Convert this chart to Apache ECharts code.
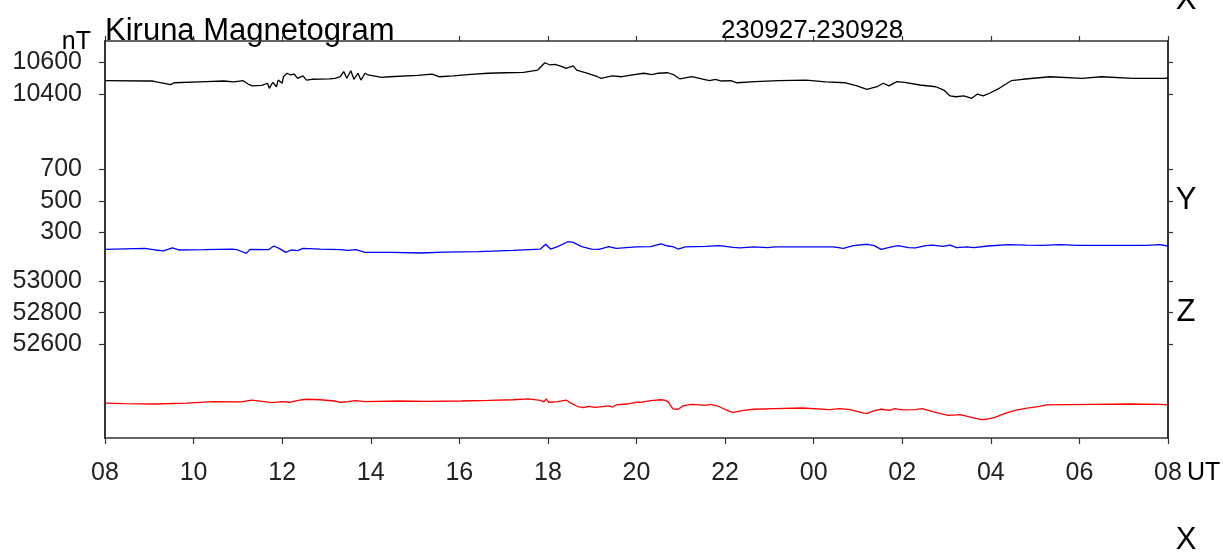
<!DOCTYPE html>
<html>
<head>
<meta charset="utf-8">
<title>Kiruna Magnetogram</title>
<script src="https://cdn.jsdelivr.net/npm/echarts@6/dist/echarts.min.js"></script>
<style>
  html, body { margin: 0; padding: 0; background: #fff; }
  #chart { width: 1223px; height: 554px; }
</style>
</head>
<body>
<div id="chart"></div>
<script>
// Time is counted in hours from 08 UT on the first day (0 .. 24).
const hourTicks = [0, 2, 4, 6, 8, 10, 12, 14, 16, 18, 20, 22, 24];

// Tick values shown for each component (nT)
const xTickValues = [10400, 10600];
const yTickValues = [300, 500, 700];
const zTickValues = [52600, 52800, 53000];

// Visible range of each component; all three share the same nT-per-pixel scale
const xRange = [8234, 10734];
const yRange = [-994, 1506];
const zRange = [52011, 54511];

// X component (north), nT
const xHours = [0.00,0.93,1.08,1.16,1.48,1.56,2.28,2.68,2.91,3.12,
  3.23,3.32,3.54,3.67,3.71,3.79,3.87,3.91,4.00,4.03,
  4.11,4.19,4.27,4.35,4.47,4.55,4.67,5.07,5.19,5.31,
  5.39,5.46,5.55,5.62,5.71,5.78,5.87,5.94,6.25,6.42,
  7.06,7.38,7.54,7.86,8.26,8.65,9.05,9.45,9.77,9.93,
  10.05,10.16,10.32,10.41,10.57,10.65,10.88,11.12,11.20,11.45,
  11.67,11.84,12.16,12.35,12.49,12.71,12.85,12.98,13.25,13.52,
  13.65,13.78,13.92,14.13,14.27,14.68,15.21,15.83,16.27,16.72,
  16.98,17.20,17.43,17.57,17.70,17.88,18.05,18.40,18.76,18.94,
  19.08,19.21,19.39,19.57,19.70,19.83,19.97,20.19,20.46,20.72,
  21.34,22.06,22.50,23.21,23.92,24.00];
const xValues = [10484,10482,10482,10476,10459,10471,10478,10482,10476,10484,
  10463,10451,10455,10468,10436,10474,10446,10488,10468,10509,
  10531,10520,10526,10499,10514,10488,10493,10495,10499,10509,
  10541,10499,10547,10493,10531,10488,10531,10520,10505,10509,
  10518,10526,10509,10515,10524,10531,10534,10537,10551,10597,
  10583,10587,10572,10562,10577,10551,10531,10509,10499,10514,
  10509,10518,10531,10522,10531,10534,10520,10495,10509,10493,
  10484,10493,10482,10484,10471,10478,10484,10488,10476,10471,
  10451,10430,10446,10468,10451,10478,10474,10457,10446,10425,
  10388,10383,10388,10373,10400,10388,10405,10436,10484,10493,
  10509,10499,10509,10499,10499,10501];

// Y component (east), nT
const yHours = [0.00,0.90,1.13,1.32,1.52,1.67,2.22,2.88,3.00,3.19,
  3.27,3.69,3.81,3.93,4.08,4.20,4.35,4.47,4.86,5.32,
  5.36,5.48,5.67,5.87,6.49,7.11,7.66,8.43,9.21,9.83,
  9.95,10.06,10.22,10.45,10.57,10.76,10.99,11.15,11.38,11.54,
  12.00,12.32,12.55,12.71,12.82,12.94,13.10,13.56,13.87,14.18,
  14.34,14.65,14.96,15.12,15.74,16.44,16.67,16.90,17.21,17.37,
  17.52,17.76,17.91,18.14,18.30,18.53,18.69,18.92,19.08,19.23,
  19.46,19.62,19.93,20.40,20.79,21.17,21.56,21.95,22.73,23.51,
  23.81,24.00];
const yValues = [194,200,190,184,203,190,192,196,190,169,
  194,192,215,200,175,190,186,200,196,192,
  180,188,192,175,175,171,177,180,188,196,
  226,196,211,242,238,211,196,194,211,200,
  209,211,228,215,211,196,209,213,217,207,
  203,209,205,209,209,209,200,217,226,217,
  194,209,217,205,203,217,221,213,221,205,
  209,205,215,224,221,219,224,219,219,219,
  224,215];

// Z component (vertical), nT
const zHours = [0.00,0.43,1.13,1.83,2.45,3.07,3.31,3.54,3.77,4.00,
  4.16,4.39,4.55,4.86,5.17,5.32,5.48,5.67,5.87,6.64,
  7.27,8.04,8.66,9.21,9.56,9.83,9.91,9.96,10.02,10.22,
  10.41,10.53,10.68,10.80,10.92,11.07,11.38,11.46,11.54,11.77,
  12.00,12.09,12.32,12.55,12.63,12.71,12.82,12.94,13.06,13.25,
  13.56,13.68,13.87,14.11,14.18,14.42,14.65,15.12,15.74,16.36,
  16.59,16.82,17.13,17.21,17.37,17.52,17.72,17.83,17.99,18.30,
  18.45,18.69,18.84,19.04,19.31,19.54,19.78,19.89,20.09,20.32,
  20.55,20.78,21.10,21.25,21.72,22.34,23.11,23.81,24.00];
const zValues = [52231,52227,52225,52231,52240,52238,52250,52242,52234,52240,
  52236,52250,52255,52252,52244,52236,52240,52246,52240,52244,
  52242,52244,52248,52252,52257,52248,52238,52257,52236,52240,
  52250,52229,52208,52202,52210,52204,52213,52206,52219,52225,
  52236,52236,52246,52252,52250,52240,52194,52192,52215,52223,
  52217,52223,52208,52177,52173,52185,52192,52196,52200,52190,
  52196,52190,52168,52166,52183,52192,52185,52196,52188,52190,
  52196,52177,52166,52154,52158,52143,52127,52129,52141,52166,
  52185,52198,52210,52219,52221,52223,52225,52223,52219];

const FONT = "'Liberation Sans', Arial, Helvetica, sans-serif";
const AXIS_COLOR = '#333';
const LABEL_COLOR = '#222';

function zip(hours, values) {
  return hours.map((h, i) => [h, values[i]]);
}

function hourLabel(v) {
  return String((8 + v) % 24).padStart(2, '0');
}

function plainNumber(v) {
  return String(Math.round(v));
}

function leftAxis(range, ticks) {
  return {
    type: 'value', position: 'left', offset: 0,
    min: range[0], max: range[1],
    axisLine: { show: true, onZero: false, lineStyle: { color: AXIS_COLOR, width: 1.5 } },
    axisTick: { show: true, inside: false, length: 6, customValues: ticks,
      lineStyle: { color: AXIS_COLOR, width: 1.2 } },
    axisLabel: { show: true, customValues: ticks, margin: 23, formatter: plainNumber,
      color: LABEL_COLOR, fontSize: 25, fontFamily: FONT },
    splitLine: { show: false }
  };
}

function rightAxis(range, ticks) {
  return {
    type: 'value', position: 'right', offset: 0,
    min: range[0], max: range[1],
    axisLine: { show: true, onZero: false, lineStyle: { color: AXIS_COLOR, width: 1.5 } },
    axisTick: { show: true, inside: false, length: 5, customValues: ticks,
      lineStyle: { color: AXIS_COLOR, width: 1.2 } },
    axisLabel: { show: false },
    splitLine: { show: false }
  };
}

function sideText(text, x, y, size, align) {
  return {
    type: 'text', x: x, y: y, silent: true,
    style: { text: text, fill: '#000', font: size + 'px ' + FONT,
      textAlign: align || 'center', textVerticalAlign: 'middle' }
  };
}

const chart = echarts.init(document.getElementById('chart'), null, { renderer: 'canvas' });

chart.setOption({
  animation: false,
  backgroundColor: '#fff',
  grid: { left: 105, right: 55, top: 41, bottom: 116, containLabel: false },
  xAxis: [
    {
      type: 'value', position: 'bottom', min: 0, max: 24, interval: 2,
      axisLine: { show: true, onZero: false, lineStyle: { color: AXIS_COLOR, width: 1.5 } },
      axisTick: { show: true, inside: false, length: 6, lineStyle: { color: AXIS_COLOR, width: 1.2 } },
      axisLabel: { show: true, margin: 23, color: LABEL_COLOR, fontSize: 25, fontFamily: FONT,
        formatter: hourLabel, showMinLabel: true, showMaxLabel: true },
      splitLine: { show: false }
    },
    {
      type: 'value', position: 'top', min: 0, max: 24, interval: 2,
      axisLine: { show: true, onZero: false, lineStyle: { color: AXIS_COLOR, width: 1.5 } },
      axisTick: { show: true, inside: false, length: 5, lineStyle: { color: AXIS_COLOR, width: 1.2 } },
      axisLabel: { show: false },
      splitLine: { show: false }
    }
  ],
  yAxis: [
    leftAxis(xRange, xTickValues),
    leftAxis(yRange, yTickValues),
    leftAxis(zRange, zTickValues),
    rightAxis(xRange, xTickValues),
    rightAxis(yRange, yTickValues),
    rightAxis(zRange, zTickValues)
  ],
  series: [
    { name: 'X', type: 'line', xAxisIndex: 0, yAxisIndex: 0, data: zip(xHours, xValues),
      showSymbol: false, symbol: 'none', lineStyle: { color: '#000000', width: 1.3 }, z: 3 },
    { name: 'Y', type: 'line', xAxisIndex: 0, yAxisIndex: 1, data: zip(yHours, yValues),
      showSymbol: false, symbol: 'none', lineStyle: { color: '#0000ff', width: 1.3 }, z: 3 },
    { name: 'Z', type: 'line', xAxisIndex: 0, yAxisIndex: 2, data: zip(zHours, zValues),
      showSymbol: false, symbol: 'none', lineStyle: { color: '#ff0000', width: 1.3 }, z: 3 }
  ],
  graphic: [
    sideText('Kiruna Magnetogram', 105, 31, 31, 'left'),
    sideText('230927-230928', 812, 31, 26, 'center'),
    sideText('nT', 91, 42, 25, 'right'),
    sideText('X', 1186, 0, 31, 'center'),
    sideText('Y', 1186, 200, 31, 'center'),
    sideText('Z', 1186, 312, 31, 'center'),
    sideText('X', 1186, 540, 31, 'center'),
    sideText('UT', 1187, 473, 25, 'left')
  ]
});
</script>
</body>
</html>
